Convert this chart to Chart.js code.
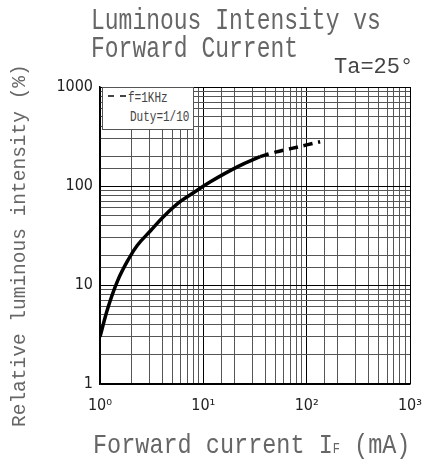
<!DOCTYPE html>
<html>
<head>
<meta charset="utf-8">
<script src="https://cdn.jsdelivr.net/npm/chart.js@4.4.0/dist/chart.umd.min.js"></script>
<style>
  body { margin: 0; background: #fff; }
  #wrap { position: relative; width: 423px; height: 464px; overflow: hidden; }
  canvas { position: absolute; left: 0; top: 0; }
  .t { position: absolute; white-space: nowrap; font-family: "Liberation Mono", "DejaVu Sans Mono", monospace;
       color: #666; line-height: 1; transform-origin: 0 0; }
  #leg { position: absolute; left: 102px; top: 87px; width: 92px; height: 43px; background: #fff;
         border: 1px solid #555; box-sizing: border-box; }
  #leg .dash { position: absolute; left: 5px; top: 7px; width: 18px; border-top: 2px dashed #444; }
  #leg .lt { position: absolute; font-family: "Liberation Mono", "DejaVu Sans Mono", monospace; font-size: 11px;
             color: #444; line-height: 1; transform: scaleY(1.3); transform-origin: 0 0; }
</style>
</head>
<body>
<div id="wrap">
  <canvas id="chart" width="423" height="464"></canvas>
  <div class="t" style="left:91px;top:7px;font-size:23px;transform:scaleY(1.3)">Luminous Intensity vs</div>
  <div class="t" style="left:91px;top:35px;font-size:23px;transform:scaleY(1.3)">Forward Current</div>
  <div class="t" style="left:334px;top:57px;font-size:22px;color:#444">Ta=25°</div>
  <div class="t" style="left:11px;top:427px;font-size:19.5px;transform:rotate(-90deg)">Relative luminous intensity (%)</div>
  <div class="t" style="left:93px;top:431px;font-size:23.5px;transform:scaleY(1.2)">Forward current I<span style="font-size:12px">F</span> (mA)</div>
  <div id="leg">
    <div class="dash"></div>
    <div class="lt" style="left:25px;top:4px">f=1KHz</div>
    <div class="lt" style="left:27px;top:23px">Duty=1/10</div>
  </div>
</div>
<script>
// DC part of the curve (solid)
const solidCurrent = [1, 1.2, 1.49, 1.87, 2.3, 3.1, 4.2, 5.95, 8.3, 11.6, 21.8, 35.4];
const solidIntensity = [3.0, 6.0, 11.2, 17.9, 25.2, 35.5, 50, 69.4, 87.5, 110, 158, 198];
// pulsed part (dashed)
const pulseCurrent = [35.4, 50, 71.7, 100, 135];
const pulseIntensity = [198, 220, 240, 260, 280];

const xTickLabels = ["10⁰", "10¹", "10²", "10³"];
const yTickLabels = ["1", "10", "100", "1000"];

function toPoints(xs, ys) {
  return xs.map((x, i) => ({ x: x, y: ys[i] }));
}

function isDecade(v) {
  const p = Math.log10(v);
  return Math.abs(p - Math.round(p)) < 1e-9;
}

function decadeLabel(labels) {
  return function (value) {
    return isDecade(value) ? (labels[Math.round(Math.log10(value))] || "") : "";
  };
}

function gridColor(ctx) {
  return ctx.tick && isDecade(ctx.tick.value) ? "#000" : "#555";
}

const tickFont = { family: "DejaVu Sans Condensed", size: 16 };

new Chart(document.getElementById("chart"), {
  type: "line",
  data: {
    datasets: [
      {
        data: toPoints(solidCurrent, solidIntensity),
        borderColor: "#000",
        borderWidth: 3.5,
        pointRadius: 0,
        tension: 0.4
      },
      {
        data: toPoints(pulseCurrent, pulseIntensity),
        borderColor: "#000",
        borderWidth: 3.5,
        borderDash: [9, 6],
        pointRadius: 0,
        tension: 0.4
      }
    ]
  },
  options: {
    responsive: false,
    animation: false,
    devicePixelRatio: 1,
    layout: { padding: { top: 87, right: 13, left: 0, bottom: 0 } },
    plugins: { legend: { display: false }, tooltip: { enabled: false } },
    scales: {
      x: {
        type: "logarithmic",
        min: 1,
        max: 1000,
        grid: { color: gridColor, lineWidth: 1, drawTicks: false },
        border: { color: "#000", width: 1.5 },
        ticks: { autoSkip: false, maxRotation: 0, padding: 12, color: "#222", font: tickFont,
                 callback: decadeLabel(xTickLabels) },
        afterFit: s => { s.height = 80; s.paddingLeft = 0; s.paddingRight = 0; }
      },
      y: {
        type: "logarithmic",
        min: 1,
        max: 1000,
        grid: { color: gridColor, lineWidth: 1, drawTicks: false },
        border: { color: "#000", width: 1.5 },
        ticks: { autoSkip: false, padding: 7, color: "#222", font: tickFont,
                 callback: decadeLabel(yTickLabels) },
        afterFit: s => { s.width = 100; s.paddingTop = 0; s.paddingBottom = 0; }
      }
    }
  }
});
</script>
</body>
</html>
